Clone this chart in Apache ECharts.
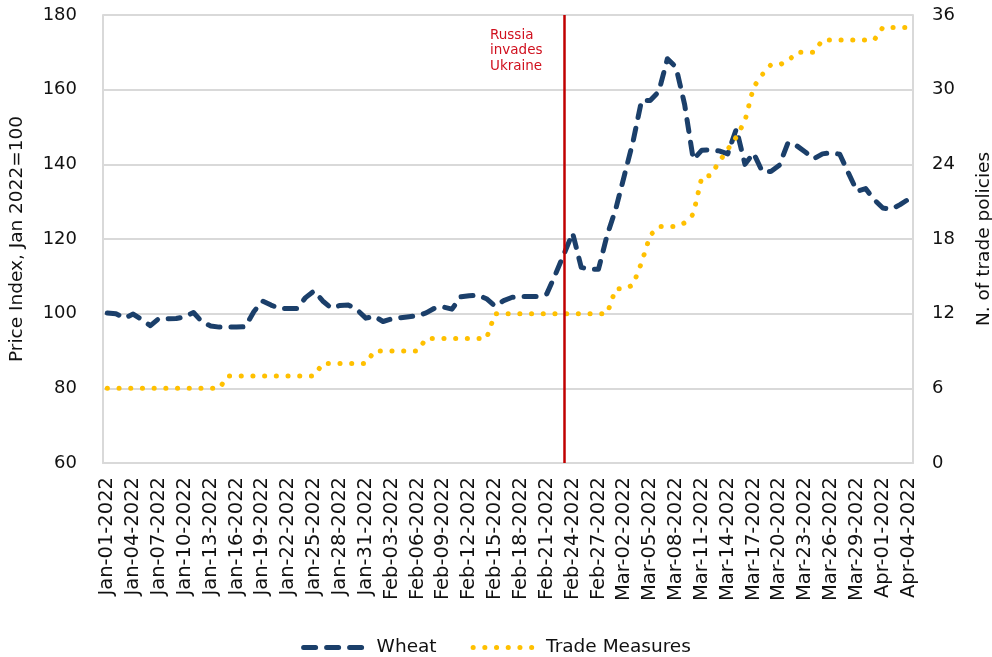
<!DOCTYPE html>
<html>
<head>
<meta charset="utf-8">
<script src="https://cdn.jsdelivr.net/npm/echarts/dist/echarts.min.js"></script>
<style>
html,body{margin:0;padding:0;background:#ffffff;}
#chart{width:992px;height:657px;}
</style>
</head>
<body>
<div id="chart"></div>
<script>
// ---- Data ----
const dates = [
  'Jan-01-2022','Jan-02-2022','Jan-03-2022','Jan-04-2022','Jan-05-2022','Jan-06-2022','Jan-07-2022','Jan-08-2022','Jan-09-2022','Jan-10-2022',
  'Jan-11-2022','Jan-12-2022','Jan-13-2022','Jan-14-2022','Jan-15-2022','Jan-16-2022','Jan-17-2022','Jan-18-2022','Jan-19-2022','Jan-20-2022',
  'Jan-21-2022','Jan-22-2022','Jan-23-2022','Jan-24-2022','Jan-25-2022','Jan-26-2022','Jan-27-2022','Jan-28-2022','Jan-29-2022','Jan-30-2022',
  'Jan-31-2022','Feb-01-2022','Feb-02-2022','Feb-03-2022','Feb-04-2022','Feb-05-2022','Feb-06-2022','Feb-07-2022','Feb-08-2022','Feb-09-2022',
  'Feb-10-2022','Feb-11-2022','Feb-12-2022','Feb-13-2022','Feb-14-2022','Feb-15-2022','Feb-16-2022','Feb-17-2022','Feb-18-2022','Feb-19-2022',
  'Feb-20-2022','Feb-21-2022','Feb-22-2022','Feb-23-2022','Feb-24-2022','Feb-25-2022','Feb-26-2022','Feb-27-2022','Feb-28-2022','Mar-01-2022',
  'Mar-02-2022','Mar-03-2022','Mar-04-2022','Mar-05-2022','Mar-06-2022','Mar-07-2022','Mar-08-2022','Mar-09-2022','Mar-10-2022','Mar-11-2022',
  'Mar-12-2022','Mar-13-2022','Mar-14-2022','Mar-15-2022','Mar-16-2022','Mar-17-2022','Mar-18-2022','Mar-19-2022','Mar-20-2022','Mar-21-2022',
  'Mar-22-2022','Mar-23-2022','Mar-24-2022','Mar-25-2022','Mar-26-2022','Mar-27-2022','Mar-28-2022','Mar-29-2022','Mar-30-2022','Mar-31-2022',
  'Apr-01-2022','Apr-02-2022','Apr-03-2022','Apr-04-2022'
];

const wheat = [
  100.2, 100.0, 98.8, 99.9, 98.4, 96.8, 98.7, 98.6, 98.7, 99.2,
  100.3, 97.8, 96.7, 96.4, 96.4, 96.4, 96.5, 100.5, 103.4, 102.3,
  101.4, 101.4, 101.4, 104.3, 106.1, 103.4, 101.5, 102.2, 102.3, 101.0,
  98.8, 99.3, 97.9, 98.6, 98.9, 99.2, 99.4, 100.2, 101.5, 101.8,
  101.2, 104.5, 104.8, 105.0, 104.0, 102.0, 103.5, 104.4, 104.6, 104.6,
  104.6, 105.3, 110.5, 116.0, 121.6, 112.4, 111.9, 111.9, 121.0, 128.0,
  137.0, 146.0, 157.1, 157.1, 159.5, 168.3, 166.0, 156.0, 141.3, 143.8,
  143.9, 143.6, 142.8, 149.5, 140.0, 143.0, 138.1, 138.1, 139.8, 145.8,
  145.0, 143.3, 141.5, 142.8, 143.1, 142.7, 137.7, 132.8, 133.5, 130.5,
  128.3, 128.0, 129.2, 130.7
];

const tradeMeasures = [
  6, 6, 6, 6, 6, 6, 6, 6, 6, 6,
  6, 6, 6, 6, 7, 7, 7, 7, 7, 7,
  7, 7, 7, 7, 7, 8, 8, 8, 8, 8,
  8, 9, 9, 9, 9, 9, 9, 10, 10, 10,
  10, 10, 10, 10, 10, 12, 12, 12, 12, 12,
  12, 12, 12, 12, 12, 12, 12, 12, 12, 14,
  14, 14.3, 16.1, 18.3, 19, 19, 19, 19.3, 20, 23,
  23.1, 24.2, 25.2, 26.2, 27.5, 30.2, 31.2, 32, 32, 32.3,
  33, 33, 33, 34, 34, 34, 34, 34, 34, 34,
  35, 35, 35, 35
];

const seriesNames = ['Wheat', 'Trade Measures'];
const leftAxisTicks = [60, 80, 100, 120, 140, 160, 180];
const rightAxisTicks = [0, 6, 12, 18, 24, 30, 36];
const eventDate = 'Feb-23-2022';
const eventLabel = 'Russia\ninvades\nUkraine';
const leftAxisName = 'Price Index, Jan 2022=100';
const rightAxisName = 'N. of trade policies';

// ---- Chart ----
const FONT = 'DejaVu Sans';
const TEXT = '#111111';
const GRID = '#d9d9d9';
const WHEAT_COLOR = '#1B3F6A';
const TRADE_COLOR = '#FFC000';
const chart = echarts.init(document.getElementById('chart'), null, {renderer: 'canvas'});

chart.setOption({
  animation: false,
  backgroundColor: '#ffffff',
  textStyle: {fontFamily: FONT, color: TEXT},
  grid: {left: 103, right: 79, top: 15, bottom: 194, containLabel: false, outerBoundsMode: 'none'},
  legend: {
    data: [
      {name: seriesNames[0], lineStyle: {color: WHEAT_COLOR, width: 5, type: [12, 11], cap: 'round'}},
      {name: seriesNames[1], lineStyle: {color: TRADE_COLOR, width: 5, type: [0.1, 11.6], cap: 'round'}}
    ],
    left: 'center',
    top: 633,
    itemWidth: 64,
    itemHeight: 20,
    itemGap: 34,
    itemStyle: {opacity: 0},
    lineStyle: {width: 5, cap: 'round'},
    textStyle: {fontFamily: FONT, fontSize: 18.5, color: TEXT, padding: [0, 0, 0, 4]}
  },
  xAxis: {
    type: 'category',
    data: dates,
    boundaryGap: true,
    axisLine: {show: true, lineStyle: {color: GRID, width: 2}},
    axisTick: {show: false},
    axisLabel: {
      interval: 2,
      rotate: 90,
      margin: 14,
      fontSize: 19.5,
      fontFamily: FONT,
      color: TEXT
    },
    splitLine: {show: false}
  },
  yAxis: [
    {
      type: 'value',
      min: leftAxisTicks[0],
      max: leftAxisTicks[leftAxisTicks.length - 1],
      interval: leftAxisTicks[1] - leftAxisTicks[0],
      position: 'left',
      name: leftAxisName,
      nameLocation: 'middle',
      nameGap: 76,
      nameTextStyle: {fontSize: 18.5, fontFamily: FONT, color: TEXT},
      axisLine: {show: true, lineStyle: {color: GRID, width: 2}},
      axisTick: {show: false},
      axisLabel: {fontSize: 18, fontFamily: FONT, color: TEXT, margin: 26},
      splitLine: {show: true, lineStyle: {color: GRID, width: 2}}
    },
    {
      type: 'value',
      min: rightAxisTicks[0],
      max: rightAxisTicks[rightAxisTicks.length - 1],
      interval: rightAxisTicks[1] - rightAxisTicks[0],
      position: 'right',
      name: rightAxisName,
      nameLocation: 'middle',
      nameGap: 62,
      nameTextStyle: {fontSize: 18.5, fontFamily: FONT, color: TEXT},
      axisLine: {show: true, lineStyle: {color: GRID, width: 2}},
      axisTick: {show: false},
      axisLabel: {fontSize: 18, fontFamily: FONT, color: TEXT, margin: 19},
      splitLine: {show: false}
    }
  ],
  series: [
    {
      name: seriesNames[0],
      type: 'line',
      yAxisIndex: 0,
      data: wheat,
      symbol: 'none',
      smooth: false,
      itemStyle: {color: WHEAT_COLOR},
      lineStyle: {color: WHEAT_COLOR, width: 5, type: [12, 11], cap: 'round', join: 'round'},
      markLine: {
        silent: true,
        symbol: ['none', 'none'],
        label: {show: false},
        lineStyle: {color: '#C00000', width: 2.5, type: 'solid'},
        data: [{xAxis: eventDate}]
      },
      z: 2
    },
    {
      name: seriesNames[1],
      type: 'line',
      yAxisIndex: 1,
      data: tradeMeasures,
      symbol: 'none',
      smooth: false,
      itemStyle: {color: TRADE_COLOR},
      lineStyle: {color: TRADE_COLOR, width: 5, type: [0.1, 11.6], cap: 'round', join: 'round'},
      z: 3
    }
  ],
  graphic: [
    {
      type: 'text',
      x: 490,
      y: 28,
      silent: true,
      style: {
        text: eventLabel,
        fill: '#D0101E',
        fontSize: 13.5,
        fontFamily: FONT,
        lineHeight: 15.3,
        align: 'left',
        verticalAlign: 'top'
      }
    }
  ]
});
</script>
</body>
</html>
